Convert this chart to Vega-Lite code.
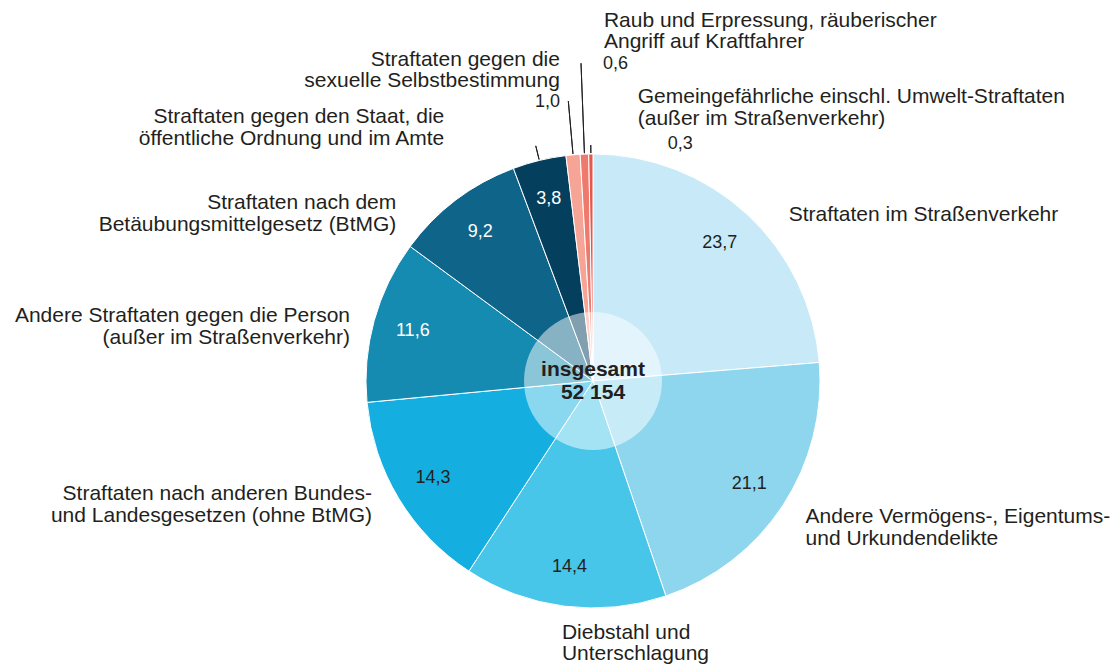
{
  "$schema": "https://vega.github.io/schema/vega-lite/v6.json",
  "width": 1050,
  "height": 570,
  "autosize": {"type": "none"},
  "padding": {"left": 68, "top": 96, "right": 0, "bottom": 0},
  "background": "white",
  "config": {
    "view": {"stroke": null},
    "font": "Liberation Sans",
    "locale": {"number": {"decimal": ",", "thousands": " ", "grouping": [3], "currency": ["", " €"]}}
  },
  "data": {
    "values": [
      {"k": "verkehr", "o": 1, "v": 23.7, "lbl": "Straftaten im Straßenverkehr"},
      {"k": "vermoegen", "o": 2, "v": 21.1, "lbl": "Andere Vermögens-, Eigentums-\nund Urkundendelikte"},
      {"k": "diebstahl", "o": 3, "v": 14.4, "lbl": "Diebstahl und\nUnterschlagung"},
      {"k": "bundes", "o": 4, "v": 14.3, "lbl": "Straftaten nach anderen Bundes-\nund Landesgesetzen (ohne BtMG)"},
      {"k": "person", "o": 5, "v": 11.6, "lbl": "Andere Straftaten gegen die Person\n(außer im Straßenverkehr)"},
      {"k": "btmg", "o": 6, "v": 9.2, "lbl": "Straftaten nach dem\nBetäubungsmittelgesetz (BtMG)"},
      {"k": "staat", "o": 7, "v": 3.8, "lbl": "Straftaten gegen den Staat, die\nöffentliche Ordnung und im Amte"},
      {"k": "sexuell", "o": 8, "v": 1.0, "lbl": "Straftaten gegen die\nsexuelle Selbstbestimmung"},
      {"k": "raub", "o": 9, "v": 0.6, "lbl": "Raub und Erpressung, räuberischer\nAngriff auf Kraftfahrer"},
      {"k": "gemein", "o": 10, "v": 0.3, "lbl": "Gemeingefährliche einschl. Umwelt-Straftaten\n(außer im Straßenverkehr)"}
    ]
  },
  "layer": [
    {
      "mark": {"type": "arc", "radius": 227, "stroke": "white", "strokeWidth": 1},
      "encoding": {
        "theta": {"field": "v", "type": "quantitative", "stack": true},
        "order": {"field": "o", "type": "quantitative"},
        "color": {
          "field": "k", "type": "nominal", "legend": null,
          "scale": {
            "domain": ["verkehr", "vermoegen", "diebstahl", "bundes", "person", "btmg", "staat", "sexuell", "raub", "gemein"],
            "range": ["#C8E9F8", "#8ED6EE", "#47C6E9", "#14AFE0", "#168BB1", "#0E6489", "#053F5E", "#F5A496", "#EE7A6E", "#E5574C"]
          }
        }
      }
    },
    {
      "data": {"values": [{"n": 1}]},
      "mark": {"type": "arc", "radius": 69, "theta": 0, "theta2": 6.2832, "fill": "white", "opacity": 0.5}
    },
    {
      "mark": {"type": "arc", "radius": 318, "radius2": 228, "padAngle": 3, "fillOpacity": 0, "stroke": "#231F20", "strokeWidth": 1},
      "encoding": {
        "theta": {"field": "v", "type": "quantitative", "stack": true},
        "order": {"field": "o", "type": "quantitative"},
        "strokeOpacity": {"condition": {"test": "datum.k == 'raub'", "value": 1}, "value": 0}
      }
    },
    {
      "mark": {"type": "arc", "radius": 281, "radius2": 228, "padAngle": 3, "fillOpacity": 0, "stroke": "#231F20", "strokeWidth": 1},
      "encoding": {
        "theta": {"field": "v", "type": "quantitative", "stack": true},
        "order": {"field": "o", "type": "quantitative"},
        "strokeOpacity": {"condition": {"test": "datum.k == 'sexuell'", "value": 1}, "value": 0}
      }
    },
    {
      "mark": {"type": "arc", "radius": 242, "radius2": 228, "padAngle": 3, "fillOpacity": 0, "stroke": "#231F20", "strokeWidth": 1},
      "encoding": {
        "theta": {"field": "v", "type": "quantitative", "stack": true},
        "order": {"field": "o", "type": "quantitative"},
        "strokeOpacity": {"condition": {"test": "datum.k == 'staat'", "value": 1}, "value": 0}
      }
    },
    {
      "mark": {"type": "arc", "radius": 236, "radius2": 228, "padAngle": 3, "fillOpacity": 0, "stroke": "#231F20", "strokeWidth": 1},
      "encoding": {
        "theta": {"field": "v", "type": "quantitative", "stack": true},
        "order": {"field": "o", "type": "quantitative"},
        "strokeOpacity": {"condition": {"test": "datum.k == 'gemein'", "value": 1}, "value": 0}
      }
    },
    {
      "mark": {"type": "text", "radius": 187, "fontSize": 18, "align": "center", "baseline": "middle"},
      "encoding": {
        "theta": {"field": "v", "type": "quantitative", "stack": true},
        "order": {"field": "o", "type": "quantitative"},
        "text": {"field": "v", "type": "quantitative", "format": ".1f", "condition": {"test": "datum.v < 3", "value": ""}},
        "color": {"condition": {"test": "datum.v < 14", "value": "white"}, "value": "#231F20"}
      }
    },
    {
      "data": {"values": [{"t": "insgesamt", "n": 52154}]},
      "layer": [
        {
          "mark": {"type": "text", "fontSize": 21, "fontWeight": "bold", "color": "#231F20", "dy": -11, "baseline": "middle"},
          "encoding": {"text": {"field": "t", "type": "nominal"}}
        },
        {
          "mark": {"type": "text", "fontSize": 21, "fontWeight": "bold", "color": "#231F20", "dy": 12, "baseline": "middle"},
          "encoding": {"text": {"field": "n", "type": "quantitative", "format": ",d"}}
        }
      ]
    },
    {
      "mark": {"type": "text", "radius": 240, "dx": 33, "dy": 10.5, "align": "left", "baseline": "middle", "fontSize": 21, "lineHeight": 22, "lineBreak": "\n", "color": "#231F20"},
      "encoding": {
        "theta": {"field": "v", "type": "quantitative", "stack": true},
        "order": {"field": "o", "type": "quantitative"},
        "text": {"field": "lbl", "type": "nominal", "condition": {"test": "datum.k != 'verkehr'", "value": ""}}
      }
    },
    {
      "mark": {"type": "text", "radius": 240, "dx": 12, "dy": 4, "align": "left", "baseline": "middle", "fontSize": 21, "lineHeight": 22, "lineBreak": "\n", "color": "#231F20"},
      "encoding": {
        "theta": {"field": "v", "type": "quantitative", "stack": true},
        "order": {"field": "o", "type": "quantitative"},
        "text": {"field": "lbl", "type": "nominal", "condition": {"test": "datum.k != 'vermoegen'", "value": ""}}
      }
    },
    {
      "mark": {"type": "text", "radius": 240, "dx": -1, "dy": 13.5, "align": "left", "baseline": "middle", "fontSize": 21, "lineHeight": 21, "lineBreak": "\n", "color": "#231F20"},
      "encoding": {
        "theta": {"field": "v", "type": "quantitative", "stack": true},
        "order": {"field": "o", "type": "quantitative"},
        "text": {"field": "lbl", "type": "nominal", "condition": {"test": "datum.k != 'diebstahl'", "value": ""}}
      }
    },
    {
      "mark": {"type": "text", "radius": 240, "dx": -15.6, "dy": -11, "align": "right", "baseline": "middle", "fontSize": 21, "lineHeight": 22, "lineBreak": "\n", "color": "#231F20"},
      "encoding": {
        "theta": {"field": "v", "type": "quantitative", "stack": true},
        "order": {"field": "o", "type": "quantitative"},
        "text": {"field": "lbl", "type": "nominal", "condition": {"test": "datum.k != 'bundes'", "value": ""}}
      }
    },
    {
      "mark": {"type": "text", "radius": 240, "dx": -11.7, "dy": -1, "align": "right", "baseline": "middle", "fontSize": 21, "lineHeight": 22, "lineBreak": "\n", "color": "#231F20"},
      "encoding": {
        "theta": {"field": "v", "type": "quantitative", "stack": true},
        "order": {"field": "o", "type": "quantitative"},
        "text": {"field": "lbl", "type": "nominal", "condition": {"test": "datum.k != 'person'", "value": ""}}
      }
    },
    {
      "mark": {"type": "text", "radius": 240, "dx": -52, "dy": 13, "align": "right", "baseline": "middle", "fontSize": 21, "lineHeight": 22, "lineBreak": "\n", "color": "#231F20"},
      "encoding": {
        "theta": {"field": "v", "type": "quantitative", "stack": true},
        "order": {"field": "o", "type": "quantitative"},
        "text": {"field": "lbl", "type": "nominal", "condition": {"test": "datum.k != 'btmg'", "value": ""}}
      }
    },
    {
      "mark": {"type": "text", "radius": 240, "dx": -92, "dy": -31, "align": "right", "baseline": "middle", "fontSize": 21, "lineHeight": 22, "lineBreak": "\n", "color": "#231F20"},
      "encoding": {
        "theta": {"field": "v", "type": "quantitative", "stack": true},
        "order": {"field": "o", "type": "quantitative"},
        "text": {"field": "lbl", "type": "nominal", "condition": {"test": "datum.k != 'staat'", "value": ""}}
      }
    },
    {
      "mark": {"type": "text", "radius": 240, "dx": -12, "dy": -82, "align": "right", "baseline": "middle", "fontSize": 21, "lineHeight": 21, "lineBreak": "\n", "color": "#231F20"},
      "encoding": {
        "theta": {"field": "v", "type": "quantitative", "stack": true},
        "order": {"field": "o", "type": "quantitative"},
        "text": {"field": "lbl", "type": "nominal", "condition": {"test": "datum.k != 'sexuell'", "value": ""}}
      }
    },
    {
      "mark": {"type": "text", "radius": 240, "dx": 20, "dy": -120, "align": "left", "baseline": "middle", "fontSize": 21, "lineHeight": 21, "lineBreak": "\n", "color": "#231F20"},
      "encoding": {
        "theta": {"field": "v", "type": "quantitative", "stack": true},
        "order": {"field": "o", "type": "quantitative"},
        "text": {"field": "lbl", "type": "nominal", "condition": {"test": "datum.k != 'raub'", "value": ""}}
      }
    },
    {
      "mark": {"type": "text", "radius": 240, "dx": 47, "dy": -44, "align": "left", "baseline": "middle", "fontSize": 21, "lineHeight": 22, "lineBreak": "\n", "color": "#231F20"},
      "encoding": {
        "theta": {"field": "v", "type": "quantitative", "stack": true},
        "order": {"field": "o", "type": "quantitative"},
        "text": {"field": "lbl", "type": "nominal", "condition": {"test": "datum.k != 'gemein'", "value": ""}}
      }
    },
    {
      "mark": {"type": "text", "radius": 240, "dx": -12, "dy": -40, "align": "right", "baseline": "middle", "fontSize": 18, "color": "#231F20"},
      "encoding": {
        "theta": {"field": "v", "type": "quantitative", "stack": true},
        "order": {"field": "o", "type": "quantitative"},
        "text": {"field": "v", "type": "quantitative", "format": ".1f", "condition": {"test": "datum.k != 'sexuell'", "value": ""}}
      }
    },
    {
      "mark": {"type": "text", "radius": 240, "dx": 19, "dy": -77, "align": "left", "baseline": "middle", "fontSize": 18, "color": "#231F20"},
      "encoding": {
        "theta": {"field": "v", "type": "quantitative", "stack": true},
        "order": {"field": "o", "type": "quantitative"},
        "text": {"field": "v", "type": "quantitative", "format": ".1f", "condition": {"test": "datum.k != 'raub'", "value": ""}}
      }
    },
    {
      "mark": {"type": "text", "radius": 240, "dx": 77, "dy": 3, "align": "left", "baseline": "middle", "fontSize": 18, "color": "#231F20"},
      "encoding": {
        "theta": {"field": "v", "type": "quantitative", "stack": true},
        "order": {"field": "o", "type": "quantitative"},
        "text": {"field": "v", "type": "quantitative", "format": ".1f", "condition": {"test": "datum.k != 'gemein'", "value": ""}}
      }
    }
  ]
}
